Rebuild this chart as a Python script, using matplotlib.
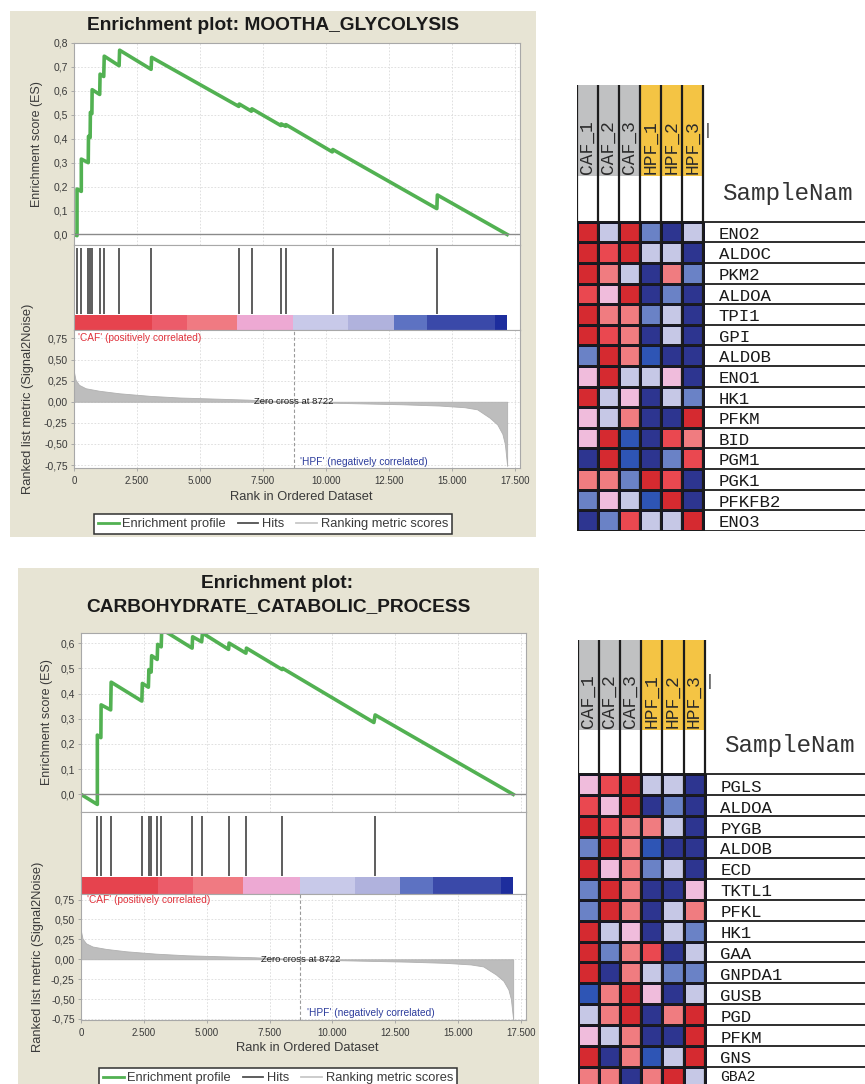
import matplotlib
matplotlib.use('Agg')
import matplotlib.pyplot as plt
import numpy as np
from matplotlib.colors import ListedColormap, BoundaryNorm
from matplotlib.lines import Line2D
from matplotlib.patches import Rectangle
from matplotlib.ticker import FuncFormatter, MultipleLocator

plt.rcParams['font.family'] = ['Liberation Sans', 'DejaVu Sans']

W, H = 865, 1084

# ranked list (same dataset for both gene sets)
zero_cross = 8722
metric_rank = [0, 60, 200, 460, 1000, 1800, 3000, 4200, 5500, 6900, 8000, 8722,
               10000, 11500, 13000, 14500, 15500, 16000, 16500, 16800, 17000, 17100, 17190]
metric_val = [0.35, 0.26, 0.20, 0.16, 0.13, 0.10, 0.07, 0.05, 0.038, 0.025, 0.01, 0.0,
              -0.01, -0.02, -0.03, -0.045, -0.065, -0.09, -0.19, -0.27, -0.38, -0.5, -0.76]

bar_edges = [0, 3080, 4470, 6450, 8700, 10880, 12680, 14000, 16700, 17190]
bar_colors = ['#e6434e', '#ec5c6a', '#f07a82', '#eda9d3', '#c8c9e9',
              '#b0b2dd', '#5d72c2', '#3a49a9', '#1d2d9d']

# MOOTHA_GLYCOLYSIS
glyco_es_rank = [0, 120, 120, 290, 290, 565, 575, 640, 650, 710, 720, 1020, 1035, 1180, 1200,
                 1790, 1810, 3060, 3080, 6540, 6560, 7040, 7060, 8210, 8225, 8395, 8410,
                 10250, 10270, 14400, 14420, 17190]
glyco_es = [0.0, -0.005, 0.19, 0.18, 0.315, 0.30, 0.41, 0.405, 0.51, 0.505, 0.605, 0.585, 0.67,
            0.66, 0.745, 0.705, 0.77, 0.69, 0.74, 0.535, 0.545, 0.515, 0.525, 0.455, 0.462,
            0.452, 0.459, 0.345, 0.355, 0.108, 0.165, 0.0]
glyco_hits = [120, 290, 570, 645, 715, 1030, 1195, 1800, 3070, 6550, 7050, 8218, 8403, 10260, 14410]

# CARBOHYDRATE_CATABOLIC_PROCESS
carbo_es_rank = [0, 650, 650, 790, 800, 1180, 1200, 2420, 2440, 2680, 2700, 2790, 2810, 3030,
                 3050, 3190, 3210, 4420, 4440, 4800, 4830, 5870, 5890, 6560, 6580, 8000, 8020,
                 11650, 11700, 17190]
carbo_es = [0.0, -0.04, 0.235, 0.225, 0.355, 0.335, 0.445, 0.37, 0.44, 0.425, 0.495, 0.485,
            0.55, 0.535, 0.595, 0.585, 0.655, 0.58, 0.625, 0.605, 0.64, 0.575, 0.60, 0.56,
            0.58, 0.495, 0.50, 0.285, 0.315, 0.0]
carbo_hits = [650, 800, 1200, 2430, 2690, 2800, 3040, 3200, 4430, 4815, 5880, 6570, 8010, 11680]

# heatmaps: 0 dark blue ... 7 dark red
sample_names = ['CAF_1', 'CAF_2', 'CAF_3', 'HPF_1', 'HPF_2', 'HPF_3']
header_colors = ['#c0c1c2'] * 3 + ['#f4c444'] * 3
level_colors = ['#2d3590', '#2e55b5', '#6a82c6', '#c6c8e6',
                '#f0bcdc', '#f07c80', '#ea4850', '#d52a30']

glyco_genes = ['ENO2', 'ALDOC', 'PKM2', 'ALDOA', 'TPI1', 'GPI', 'ALDOB', 'ENO1',
               'HK1', 'PFKM', 'BID', 'PGM1', 'PGK1', 'PFKFB2', 'ENO3']
glyco_levels = [
    [7, 3, 7, 2, 0, 3],
    [7, 6, 7, 3, 3, 0],
    [7, 5, 3, 0, 5, 2],
    [6, 4, 7, 0, 2, 0],
    [7, 5, 5, 2, 3, 0],
    [7, 6, 5, 0, 3, 0],
    [2, 7, 5, 1, 0, 0],
    [4, 7, 3, 3, 4, 0],
    [7, 3, 4, 0, 3, 2],
    [4, 3, 5, 0, 0, 7],
    [4, 7, 1, 0, 6, 5],
    [0, 7, 1, 0, 2, 6],
    [5, 5, 2, 7, 6, 0],
    [2, 4, 3, 1, 7, 0],
    [0, 2, 6, 3, 3, 7],
]

carbo_genes = ['PGLS', 'ALDOA', 'PYGB', 'ALDOB', 'ECD', 'TKTL1', 'PFKL', 'HK1',
               'GAA', 'GNPDA1', 'GUSB', 'PGD', 'PFKM', 'GNS', 'GBA2']
carbo_levels = [
    [4, 6, 7, 3, 3, 0],
    [6, 4, 7, 0, 2, 0],
    [7, 6, 5, 5, 3, 0],
    [2, 7, 5, 1, 0, 0],
    [7, 4, 5, 2, 3, 0],
    [2, 7, 5, 0, 0, 4],
    [2, 7, 5, 0, 3, 5],
    [7, 3, 4, 0, 3, 2],
    [7, 2, 5, 6, 0, 3],
    [7, 0, 5, 3, 2, 2],
    [1, 5, 7, 4, 0, 3],
    [3, 5, 7, 0, 5, 7],
    [4, 3, 5, 0, 0, 7],
    [7, 0, 5, 1, 3, 7],
    [5, 5, 0, 5, 7, 3],
]

BEIGE = '#e7e4d4'
GREEN = '#52b152'
XMAX = 17700

fig = plt.figure(figsize=(W / 100, H / 100), dpi=100)
fig.patch.set_facecolor('white')


def px_axes(x0, y0, x1, y1):
    return fig.add_axes([x0 / W, 1 - y1 / H, (x1 - x0) / W, (y1 - y0) / H])


def fig_text(x, y, s, **kw):
    return fig.text(x / W, 1 - y / H, s, **kw)


def style(ax):
    for sp in ax.spines.values():
        sp.set_color('#a8a8a8')
        sp.set_linewidth(0.8)
    ax.tick_params(colors='#a0a0a0', labelcolor='#3a3a3a', length=2.5, width=0.6)


def grid(ax):
    ax.grid(True, color='#dadada', linestyle=(0, (2, 2)), lw=0.6)
    ax.set_axisbelow(True)


def gsea_panel(box, titles, x0, x1, es_y, hit_y, rank_y, es_lim, es_ticks, rank_lim,
               es_rank, es_vals, hits, bar_frac, hit_span, es_lab_x, rank_lab_x,
               xlab_xy, leg_xy, caf_rank, hpf_y):
    bx0, by0, bx1, by1 = box
    fig.add_artist(Rectangle((bx0 / W, 1 - by1 / H), (bx1 - bx0) / W, (by1 - by0) / H,
                             transform=fig.transFigure, facecolor=BEIGE,
                             edgecolor='none', zorder=-10))
    for tx, ty, s in titles:
        fig_text(tx, ty, s, ha='center', va='center', fontsize=13.8,
                 fontweight='bold', color='#1a1a1a')

    # enrichment score
    ax = px_axes(x0, es_y[0], x1, es_y[1])
    style(ax)
    grid(ax)
    ax.plot(es_rank, es_vals, color=GREEN, lw=2.6, solid_joinstyle='round')
    ax.axhline(0, color='#8a8a8a', lw=1.0)
    ax.set_xlim(0, XMAX)
    ax.set_ylim(*es_lim)
    ax.set_yticks(es_ticks)
    ax.yaxis.set_major_formatter(FuncFormatter(lambda v, p: f'{v:.1f}'.replace('.', ',')))
    ax.xaxis.set_major_locator(MultipleLocator(2500))
    ax.tick_params(axis='x', length=0, labelbottom=False)
    ax.tick_params(axis='y', labelsize=7.5, pad=2)
    fig_text(es_lab_x, (es_y[0] + es_y[1]) / 2, 'Enrichment score (ES)', rotation=90,
             ha='center', va='center', fontsize=9, color='#3a3a3a')

    # hits + ranking colour bar
    ah = px_axes(x0, hit_y[0], x1, hit_y[1])
    style(ah)
    ah.vlines(hits, hit_span[0], hit_span[1], color='#505050', lw=1.3)
    ah.broken_barh([(a, b - a) for a, b in zip(bar_edges[:-1], bar_edges[1:])],
                   (0, bar_frac), facecolors=bar_colors)
    ah.set_xlim(0, XMAX)
    ah.set_ylim(0, 1)
    ah.set_xticks([])
    ah.set_yticks([])

    # ranked list metric
    ar = px_axes(x0, rank_y[0], x1, rank_y[1])
    style(ar)
    grid(ar)
    ar.fill_between(metric_rank, metric_val, 0, color='#bdbdbd', lw=0.6, edgecolor='#b0b0b0')
    ar.axvline(zero_cross, color='#9a9a9a', ls=(0, (3, 2)), lw=0.8)
    ar.set_xlim(0, XMAX)
    ar.set_ylim(*rank_lim)
    ar.set_yticks([-0.75, -0.5, -0.25, 0, 0.25, 0.5, 0.75])
    ar.yaxis.set_major_formatter(FuncFormatter(lambda v, p: f'{v:.2f}'.replace('.', ',')))
    ar.xaxis.set_major_locator(MultipleLocator(2500))
    ar.xaxis.set_major_formatter(FuncFormatter(lambda v, p: f'{int(v):,}'.replace(',', '.')))
    ar.tick_params(axis='y', labelsize=7.5, pad=2)
    ar.tick_params(axis='x', labelsize=7, pad=3)
    ar.text(zero_cross, 0, 'Zero cross at 8722', ha='center', va='center',
            fontsize=6.8, color='#202020')
    ar.text(caf_rank, 0.75, "'CAF' (positively correlated)", ha='left', va='center',
            fontsize=7.3, color='#e0323c')
    ar.text(zero_cross + 250, hpf_y, "'HPF' (negatively correlated)", ha='left',
            va='bottom', fontsize=7.3, color='#2c3c9c')
    fig_text(rank_lab_x, (rank_y[0] + rank_y[1]) / 2, 'Ranked list metric (Signal2Noise)',
             rotation=90, ha='center', va='center', fontsize=9.3, color='#3a3a3a')
    fig_text(xlab_xy[0], xlab_xy[1], 'Rank in Ordered Dataset', ha='center', va='center',
             fontsize=9.3, color='#3a3a3a')

    handles = [Line2D([], [], color=GREEN, lw=2),
               Line2D([], [], color='#505050', lw=1.3),
               Line2D([], [], color='#c8c8c8', lw=1.3)]
    leg = fig.legend(handles, ['Enrichment profile', 'Hits', 'Ranking metric scores'],
                     loc='center', bbox_to_anchor=(leg_xy[0] / W, 1 - leg_xy[1] / H),
                     ncol=3, fontsize=9.3, frameon=True, fancybox=False, framealpha=1,
                     edgecolor='#303030', handlelength=1.6, handletextpad=0.3,
                     columnspacing=0.9, borderpad=0.3, borderaxespad=0)
    leg.get_frame().set_linewidth(1.1)
    for t in leg.get_texts():
        t.set_color('#3a3a3a')


cmap = ListedColormap(level_colors)
norm = BoundaryNorm(np.arange(-0.5, len(level_colors)), cmap.N)


def heatmap_panel(x0, y_head, y_white, y_rows, row_px, col_px, genes, levels):
    n = len(genes)
    ncol = len(sample_names)
    y_end = min(y_rows + n * row_px, H)
    ax = px_axes(x0, y_head, W, y_end)
    head_top = (y_head - y_rows) / row_px
    white_top = (y_white - y_rows) / row_px
    y_bottom = (y_end - y_rows) / row_px
    x_max = (W - x0) / col_px
    ax.set_xlim(0, x_max)
    ax.set_ylim(y_bottom, head_top)
    ax.axis('off')
    ax.bar(range(ncol), white_top - head_top, bottom=head_top, width=1, align='edge',
           color=header_colors, edgecolor='none')
    ax.pcolormesh(np.arange(ncol + 1), np.arange(n + 1), np.array(levels), cmap=cmap,
                  norm=norm, edgecolors='#14142a', linewidth=0.9)
    ax.vlines(range(ncol + 1), head_top, n, color='#1c1c1c', lw=1.6)
    ax.hlines(range(n + 1), 0, x_max, color='#1c1c1c', lw=1.3)
    for i, s in enumerate(sample_names):
        ax.text(i + 0.5, white_top - 2 / row_px, s, rotation=90, ha='center', va='bottom',
                fontsize=13, family='Liberation Mono', color='#2a2a2a')
    ax.text(6.24, -4.45, '|', ha='center', va='center', fontsize=12,
            family='Liberation Mono', color='#3a3a3a')
    ax.text(6.9, -1.05, 'SampleNam', ha='left', va='baseline', fontsize=17.5,
            family='Liberation Mono', color='#333333')
    for i, g in enumerate(genes):
        # the last row may be cut by the image edge: keep its label inside
        visible_px = (min(i + 1, y_bottom) - i) * row_px
        size = min(12.5, visible_px * 0.72 / 1.16)
        ax.text(6.75, min(i + 1, y_bottom) - 0.02, g, ha='left', va='bottom',
                fontsize=size, family='Liberation Mono', color='#1a1a1a')


gsea_panel(box=(10, 11, 536, 537),
           titles=[(273, 25.5, 'Enrichment plot: MOOTHA_GLYCOLYSIS')],
           x0=74, x1=520, es_y=(43, 245), hit_y=(245, 330), rank_y=(330, 468),
           es_lim=(-0.044, 0.8), es_ticks=[0, 0.1, 0.2, 0.3, 0.4, 0.5, 0.6, 0.7, 0.8],
           rank_lim=(-0.785, 0.85), es_rank=glyco_es_rank, es_vals=glyco_es,
           hits=glyco_hits, bar_frac=0.176, hit_span=(0.19, 0.965),
           es_lab_x=37, rank_lab_x=28, xlab_xy=(301, 497), leg_xy=(273, 524),
           caf_rank=160, hpf_y=-0.775)

gsea_panel(box=(18, 568, 539, 1090),
           titles=[(277.5, 583.5, 'Enrichment plot:'),
                   (278.5, 606.7, 'CARBOHYDRATE_CATABOLIC_PROCESS')],
           x0=81, x1=526, es_y=(633, 812), hit_y=(812, 894), rank_y=(894, 1020),
           es_lim=(-0.07, 0.64), es_ticks=[0, 0.1, 0.2, 0.3, 0.4, 0.5, 0.6],
           rank_lim=(-0.763, 0.82), es_rank=carbo_es_rank, es_vals=carbo_es,
           hits=carbo_hits, bar_frac=0.207, hit_span=(0.22, 0.95),
           es_lab_x=46.7, rank_lab_x=37.7, xlab_xy=(307, 1048), leg_xy=(278, 1078),
           caf_rank=230, hpf_y=-0.735)

heatmap_panel(577, 85, 176, 221.7, 20.6, 21.0, glyco_genes, glyco_levels)
heatmap_panel(578, 640, 730, 774.3, 20.9, 21.1, carbo_genes, carbo_levels)

fig.savefig('out.png', dpi=100, facecolor='white')
